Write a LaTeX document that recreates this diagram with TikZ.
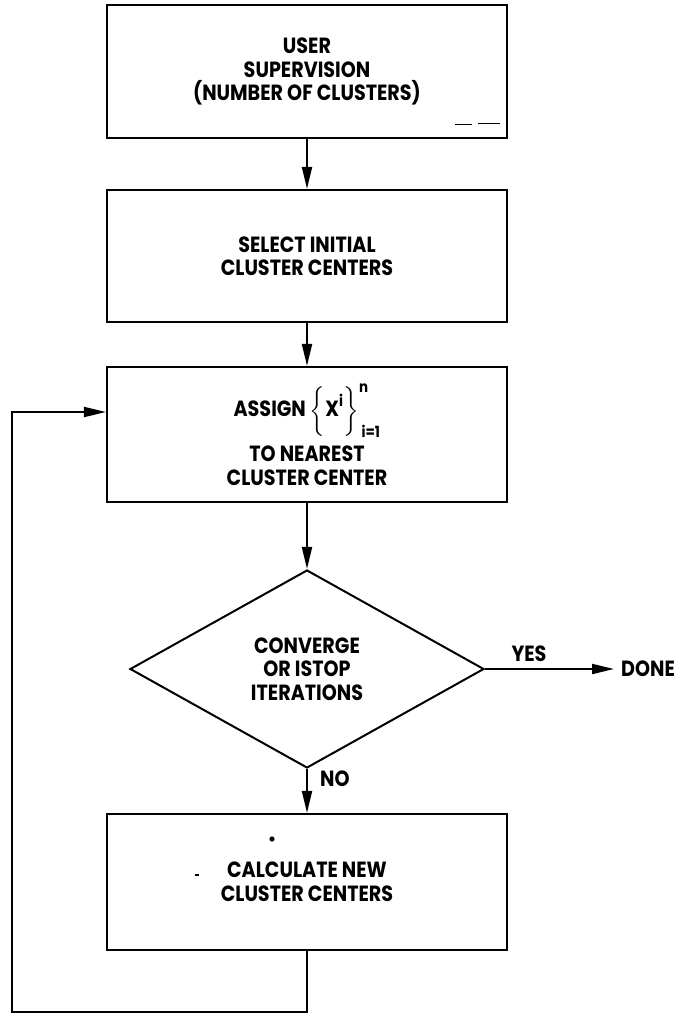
\documentclass[tikz,border=0pt]{standalone}
\usepackage{amsmath}
\usepackage{fontspec}
\setmainfont{Poppins}[FakeStretch=0.87]
\usetikzlibrary{shapes.geometric,arrows.meta}
\tikzset{
  txt/.style={font=\fontsize{22}{23.5}\selectfont\bfseries, align=center, inner sep=0pt},
  procbox/.style={txt, draw, line width=2.2pt, minimum width=400pt},
  decision/.style={txt, draw, diamond, line width=2pt, aspect=1.79, minimum width=354pt, minimum height=198pt},
  flow/.style={line width=2pt, -{Triangle[length=22pt,width=10pt]}},
  plain/.style={line width=2pt}
}
\begin{document}
\begin{tikzpicture}[x=1pt,y=-1pt]
\useasboundingbox (0,0) rectangle (695,1020);
\node[procbox, minimum height=133pt] (b1) at (307,71.5) {USER\\SUPERVISION\\(NUMBER OF CLUSTERS)};
\node[procbox, minimum height=132pt] (b2) at (307,256) {SELECT INITIAL\\CLUSTER CENTERS};
\node[procbox, minimum height=135pt] (b3) at (307,434.5) {ASSIGN $\left\{\rule[-13pt]{0pt}{42pt}\text{X}^{\text{i}}\right\}^{\text{n}}_{\,\text{i=1}}$\\[8pt]TO NEAREST\\CLUSTER CENTER};
\node[decision] (d) at (307,669) {CONVERGE\\OR ISTOP\\ITERATIONS};
\node[procbox, minimum height=136pt] (b4) at (307,882) {CALCULATE NEW\\CLUSTER CENTERS};
\node[txt, anchor=west] (done) at (621,669) {DONE};
\node[txt] (yes) at (529,654) {YES};
\node[txt, anchor=west] (no) at (320,779) {NO};
\fill (272,839) circle (2.6pt);
\draw[line width=1.2pt] (195,875) -- (199,875);
\draw[line width=1pt] (455,124) -- (472,124) (478,123) -- (500,123);
\coordinate (lb) at (12,1012);
\coordinate (le) at (12,412);
\draw[flow] (b1) -- (b2);
\draw[flow] (b2) -- (b3);
\draw[flow] (b3) -- (d);
\draw[flow] (d.east) -- ([xshift=-7pt]done.west);
\draw[flow] (d.south) -- (b4.north);
\draw[flow] (b4.south) |- (lb) -- (le) -- (b3.west |- le);
\end{tikzpicture}
\end{document}
